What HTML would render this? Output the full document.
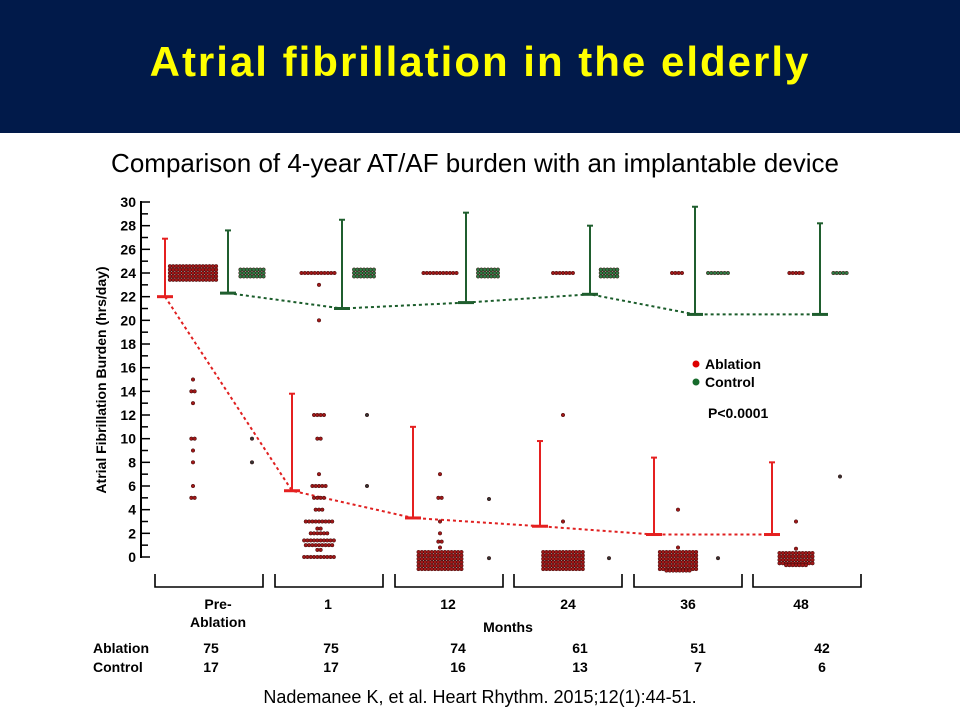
<!DOCTYPE html>
<html><head><meta charset="utf-8"><style>
html,body{margin:0;padding:0;background:#fff;}
body{width:960px;height:720px;overflow:hidden;position:relative;font-family:"Liberation Sans",sans-serif;}
#band{position:absolute;left:0;top:0;width:960px;height:133px;background:#011a4a;}
#title{position:absolute;left:0;top:38px;width:960px;text-align:center;color:#ffff00;font-weight:bold;font-size:42px;letter-spacing:2px;}
#sub{position:absolute;left:0;top:148px;width:950px;text-align:center;font-size:26px;color:#000;}
svg{position:absolute;left:0;top:0;}
</style></head><body>
<div id="band"></div>
<div id="title">Atrial fibrillation in the elderly</div>
<div id="sub">Comparison of 4-year AT/AF burden with an implantable device</div>
<svg id="s" width="960" height="720" font-family="Liberation Sans, sans-serif">
<g id="g"></g>
<text x="0" y="0" transform="translate(106,380) rotate(-90)" text-anchor="middle" font-size="14" font-weight="bold">Atrial Fibrillation Burden (hrs/day)</text>
<g font-size="14" font-weight="bold" text-anchor="middle">
<text x="218" y="609">Pre-</text><text x="218" y="627">Ablation</text>
<text x="328" y="609">1</text><text x="448" y="609">12</text><text x="568" y="609">24</text><text x="688" y="609">36</text><text x="801" y="609">48</text>
<text x="508" y="632">Months</text>
</g>
<g font-size="14" font-weight="bold">
<text x="93" y="653">Ablation</text><text x="93" y="672">Control</text>
</g>
<g font-size="14" font-weight="bold" text-anchor="middle">
<text x="211" y="653">75</text><text x="331" y="653">75</text><text x="458" y="653">74</text><text x="580" y="653">61</text><text x="698" y="653">51</text><text x="822" y="653">42</text>
<text x="211" y="672">17</text><text x="331" y="672">17</text><text x="458" y="672">16</text><text x="580" y="672">13</text><text x="698" y="672">7</text><text x="822" y="672">6</text>
</g>
<g font-size="14" font-weight="bold">
<circle cx="696" cy="364" r="3.5" fill="#d00"/><text x="705" y="369">Ablation</text>
<circle cx="696" cy="382" r="3.5" fill="#176b2c"/><text x="705" y="387">Control</text>
<text x="708" y="418">P&lt;0.0001</text>
</g>
<text x="480" y="703" text-anchor="middle" font-size="18">Nademanee K, et al. Heart Rhythm. 2015;12(1):44-51.</text>
</svg>
<script>
var g=document.getElementById('g'),h='';
function Y(v){return 557-11.833*v;}
h+='<line x1="141" y1="201" x2="141" y2="558" stroke="#000" stroke-width="2"/>';
for(var v=0;v<=30;v++){var y=Y(v);h+='<line x1="141" y1="'+y+'" x2="'+(v%2?148:150)+'" y2="'+y+'" stroke="#000" stroke-width="1.5"/>';
if(v%2==0)h+='<text x="136" y="'+(y+5)+'" text-anchor="end" font-size="14" font-weight="bold">'+v+'</text>';}
[[155,263],[275,383],[395,503],[514,622],[634,742],[753,861]].forEach(function(b){
h+='<path d="M'+b[0]+' 574V587H'+b[1]+'V574" fill="none" stroke="#000" stroke-width="1.6"/>';});
function eb(x,m,t,c){h+='<line x1="'+x+'" y1="'+Y(t)+'" x2="'+x+'" y2="'+Y(m)+'" stroke="'+c+'" stroke-width="2"/>';
h+='<line x1="'+(x-3)+'" y1="'+Y(t)+'" x2="'+(x+3)+'" y2="'+Y(t)+'" stroke="'+c+'" stroke-width="2"/>';
h+='<line x1="'+(x-8)+'" y1="'+Y(m)+'" x2="'+(x+8)+'" y2="'+Y(m)+'" stroke="'+c+'" stroke-width="3"/>';}
var rx=[165,292,413,540,654,772],rm=[22,5.6,3.3,2.6,1.9,1.9],rt=[26.9,13.8,11,9.8,8.4,8.0];
var gx=[228,342,466,590,695,820],gm=[22.3,21,21.5,22.2,20.5,20.5],gt=[27.6,28.5,29.1,28,29.6,28.2];
var p='';rx.forEach(function(x,i){p+=(i?'L':'M')+x+' '+Y(rm[i]);});
h+='<path d="'+p+'" fill="none" stroke="#e02020" stroke-width="2" stroke-dasharray="3,3"/>';
p='';gx.forEach(function(x,i){p+=(i?'L':'M')+x+' '+Y(gm[i]);});
h+='<path d="'+p+'" fill="none" stroke="#1a5c2a" stroke-width="2" stroke-dasharray="3,3"/>';
for(var i=0;i<6;i++){eb(rx[i],rm[i],rt[i],'#e52020');eb(gx[i],gm[i],gt[i],'#1f5e2e');}
var S=3.3;
function dot(x,y,c){h+='<circle cx="'+x+'" cy="'+y+'" r="1.8" fill="'+c+'" stroke="#3a0a0a" stroke-width="0.5"/>';}
function row(cx,y,n,c){for(var k=0;k<n;k++)dot(cx-(n-1)*S/2+k*S,y,c);}
function blk(cx,yc,cols,rows,c){for(var r=0;r<rows;r++)row(cx,yc-(rows-1)*1.7+r*3.4,cols,c);}
var R='#a01818',G='#2e7a45';
blk(193,Y(24),15,5,R);
[15,13,9,8].forEach(function(v){dot(193,Y(v),R);});row(193,Y(14),2,R);row(193,Y(10),2,R);row(193,Y(6),1,R);row(193,Y(5),2,R);
blk(252,Y(24),8,3,G);dot(252,Y(10),'#333');dot(252,Y(8),'#333');
row(318,Y(24),11,R);dot(319,Y(23),R);dot(319,Y(20),R);
row(319,Y(12),4,R);row(319,Y(10),2,R);dot(319,Y(7),R);row(319,Y(6),5,R);row(319,Y(5),4,R);row(319,Y(4),3,R);
row(319,Y(3),9,R);row(319,Y(2.4),2,R);row(319,Y(2),6,R);row(319,Y(1.4),10,R);row(319,Y(1),9,R);row(319,Y(0.6),2,R);row(319,Y(0),10,R);
blk(364,Y(24),7,3,G);dot(367,Y(12),'#333');dot(367,Y(6),'#333');
row(440,Y(24),11,R);blk(488,Y(24),7,3,G);
dot(440,Y(7),R);row(440,Y(5),2,R);dot(440,Y(3),R);dot(440,Y(2),R);row(440,Y(1.3),2,R);dot(440,Y(0.8),R);
blk(440,Y(-0.3),14,6,R);dot(489,Y(4.9),'#333');dot(489,Y(-0.1),'#333');
row(563,Y(24),7,R);blk(609,Y(24),6,3,G);dot(563,Y(12),R);dot(563,Y(3),R);blk(563,Y(-0.3),13,6,R);dot(609,Y(-0.1),'#333');
row(677,Y(24),4,R);row(718,Y(24),7,G);dot(678,Y(4),R);dot(678,Y(0.8),R);blk(678,Y(-0.3),12,6,R);row(678,Y(-0.3)+10,8,R);dot(718,Y(-0.1),'#333');
row(796,Y(24),5,R);row(840,Y(24),5,G);dot(796,Y(3),R);dot(796,Y(0.7),R);blk(796,Y(-0.1),11,4,R);row(796,Y(-0.1)+7,7,R);dot(840,Y(6.8),'#333');
g.innerHTML=h;
</script>
</body></html>
